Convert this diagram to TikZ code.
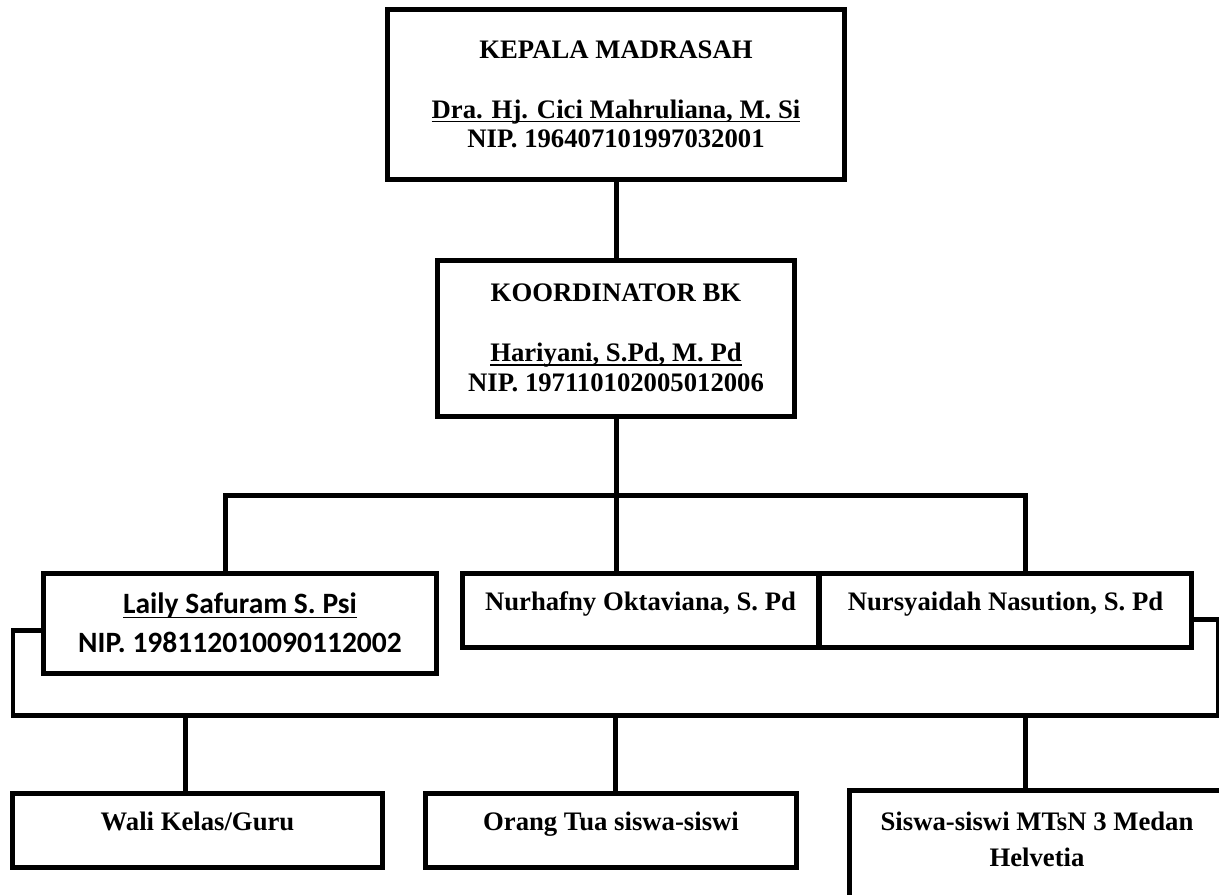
\documentclass[tikz,border=0pt]{standalone}
\usepackage{fontspec}
\setmainfont{Liberation Serif}
\newfontfamily\calibri{Carlito}
\newcommand\garis[1]{\setbox0\hbox{#1}\rlap{\rule[-2.4pt]{\wd0}{0.9pt}}\box0}

\tikzset{
  unit/.style={rectangle, draw, line width=0.1cm, align=center, inner sep=0pt,
    font=\fontsize{15.2}{17}\selectfont\bfseries},
  oneline/.style={unit, text height=12pt, text depth=12pt, minimum height=1.48cm},
  link/.style={line width=0.1cm}
}

\begin{document}
\begin{tikzpicture}[x=0.02cm, y=-0.02cm]
  \useasboundingbox (0,0) rectangle (1219,894);

  % pimpinan
  \path (616,94.5) node[unit, minimum width=9.16cm, minimum height=3.42cm] (kepala)
    {KEPALA MADRASAH\\[17pt]\garis{Dra. Hj. Cici Mahruliana, M. Si}\\NIP. 196407101997032001};
  \path (616,338) node[unit, minimum width=7.14cm, minimum height=3.12cm] (koord)
    {KOORDINATOR BK\\[17pt]\garis{Hariyani, S.Pd, M. Pd}\\NIP. 197110102005012006};

  % guru bk
  \path (240,623) node[unit, minimum width=7.88cm, minimum height=2cm,
    font=\calibri\fontsize{16.8}{22}\selectfont\bfseries] (laily)
    {\garis{Laily Safuram S. Psi}\\NIP. 198112010090112002};
  \path (640.5,610) node[oneline, minimum width=7.14cm] (nurhafny) {Nurhafny Oktaviana, S. Pd};
  \path (1005.5,610) node[oneline, minimum width=7.46cm] (nursy) {Nursyaidah Nasution, S. Pd};

  % sasaran layanan
  \path (197.5,830) node[oneline, minimum width=7.42cm] (wali) {Wali Kelas/Guru};
  \path (611,830) node[oneline, minimum width=7.44cm] (orang) {Orang Tua siswa-siswi};
  \path (1037,839.5) node[unit, draw=none, minimum width=7.4cm, minimum height=1.86cm,
    font=\fontsize{15.2}{20.5}\selectfont\bfseries] (siswa) {Siswa-siswi MTsN 3 Medan\\Helvetia};
  \draw[link] ([yshift=-0.16cm]siswa.south west) |- (siswa.north east);

  \coordinate (busL) at (225,495);
  \coordinate (busR) at (1025,495);
  \coordinate (lowL) at (13,715);
  \coordinate (lowR) at (1218,715);
  \coordinate (dwali) at (185,715);
  \coordinate (dorang) at (615,715);
  \coordinate (dsiswa) at (1025,715);

  \draw[link] (kepala) -- (koord);
  \draw[link] (koord.south) -- (koord.south |- nurhafny.north);
  \draw[link] (laily.north -| busL) |- (busR) -- (busR |- nursy.north);
  \draw[link] ([yshift=-0.14cm]laily.west) -| (lowL) -- (lowR) |- ([yshift=-0.18cm]nursy.east);
  \foreach \b in {wali, orang, siswa}
    \draw[link] (d\b) -- (d\b |- \b.north);
\end{tikzpicture}
\end{document}
